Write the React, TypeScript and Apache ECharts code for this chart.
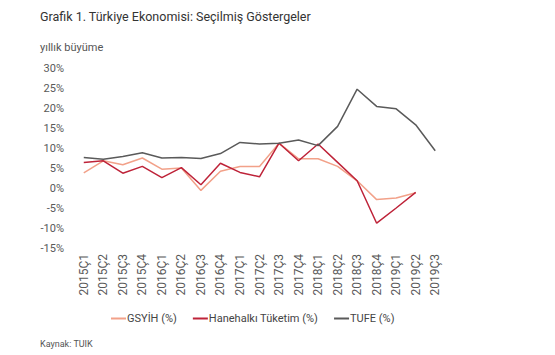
import React, { useEffect, useRef } from "react";
import * as echarts from "echarts";

const categories = [
  "2015Ç1", "2015Ç2", "2015Ç3", "2015Ç4",
  "2016Ç1", "2016Ç2", "2016Ç3", "2016Ç4",
  "2017Ç1", "2017Ç2", "2017Ç3", "2017Ç4",
  "2018Ç1", "2018Ç2", "2018Ç3", "2018Ç4",
  "2019Ç1", "2019Ç2", "2019Ç3",
];
const gsyih = [3.8, 6.8, 5.8, 7.5, 4.7, 5.0, -0.6, 4.2, 5.4, 5.4, 11.2, 7.3, 7.3, 5.4, 1.8, -2.9, -2.5, -1.2, null];
const hanehalki = [6.4, 6.8, 3.7, 5.4, 2.6, 5.1, 0.8, 6.2, 3.9, 2.8, 11.2, 6.8, 11.0, 6.4, 1.8, -8.8, -5.0, -1.1, null];
const tufe = [7.6, 7.2, 7.9, 8.8, 7.5, 7.6, 7.4, 8.6, 11.4, 11.0, 11.2, 12.0, 10.6, 15.4, 24.7, 20.4, 19.8, 15.8, 9.3];
const yTicks = { min: -15, max: 30, interval: 5 };

const FONT = "Roboto, 'Noto Sans', sans-serif";

export default function App() {
  const ref = useRef<HTMLDivElement>(null);
  useEffect(() => {
    if (!ref.current) return;
    const chart = echarts.init(ref.current, null, { renderer: "svg" });
    chart.setOption({
      animation: false,
      backgroundColor: "#ffffff",
      textStyle: { fontFamily: FONT },
      graphic: [
        {
          type: "text",
          x: 32,
          y: 8,
          style: {
            text: "Grafik 1. Türkiye Ekonomisi: Seçilmiş Göstergeler",
            font: "12.5px " + FONT,
            fill: "#333333",
            verticalAlign: "middle",
          },
        },
        {
          type: "text",
          x: 32,
          y: 39,
          style: { text: "yıllık büyüme", font: "11px " + FONT, fill: "#555555", verticalAlign: "middle" },
        },
        {
          type: "text",
          x: 32,
          y: 336,
          style: { text: "Kaynak: TUIK", font: "9px " + FONT, fill: "#555555", verticalAlign: "middle" },
        },
      ],
      legend: {
        left: 98,
        top: 300,
        itemWidth: 15,
        itemHeight: 2,
        itemGap: 16,
        icon: "rect",
        textStyle: { fontFamily: FONT, fontSize: 11, color: "#444444", padding: [0, 0, 0, -4] },
        data: ["GSYİH (%)", "Hanehalkı Tüketim (%)", "TUFE (%)"],
      },
      grid: { left: 66, right: 118, top: 60, bottom: 115, containLabel: false },
      xAxis: {
        type: "category",
        data: categories,
        boundaryGap: true,
        axisLine: { show: false },
        axisTick: { show: false },
        axisLabel: { rotate: 90, fontSize: 12, color: "#595959", margin: 6, fontFamily: FONT },
      },
      yAxis: {
        type: "value",
        min: yTicks.min,
        max: yTicks.max,
        interval: yTicks.interval,
        splitLine: { show: false },
        axisLine: { show: false },
        axisTick: { show: false },
        axisLabel: { formatter: "{value}%", fontSize: 11, color: "#595959", margin: 10, fontFamily: FONT },
      },
      series: [
        {
          name: "GSYİH (%)",
          type: "line",
          data: gsyih,
          showSymbol: false,
          symbol: "none",
          lineStyle: { width: 1.5, color: "#F2A189" },
          itemStyle: { color: "#F2A189" },
        },
        {
          name: "Hanehalkı Tüketim (%)",
          type: "line",
          data: hanehalki,
          showSymbol: false,
          symbol: "none",
          lineStyle: { width: 1.5, color: "#BE2339" },
          itemStyle: { color: "#BE2339" },
        },
        {
          name: "TUFE (%)",
          type: "line",
          data: tufe,
          showSymbol: false,
          symbol: "none",
          lineStyle: { width: 1.5, color: "#5A5A5A" },
          itemStyle: { color: "#5A5A5A" },
        },
      ],
    });
    return () => chart.dispose();
  }, []);
  return <div ref={ref} style={{ width: 555, height: 355 }} />;
}
